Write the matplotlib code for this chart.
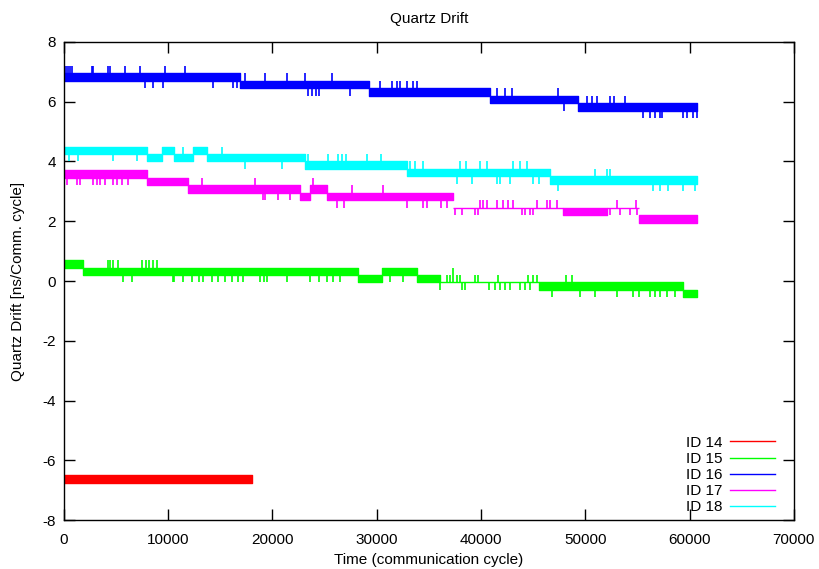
import matplotlib
matplotlib.use("Agg")
import matplotlib.pyplot as plt
from matplotlib.lines import Line2D

plt.rcParams['font.family'] = ['Liberation Sans', 'DejaVu Sans']
plt.rcParams['axes.unicode_minus'] = False

# each series: band segments (x edges, low level, high level) + single spikes
labels = ["ID 14", "ID 15", "ID 16", "ID 17", "ID 18"]
colors = ["#ff0000", "#00ff00", "#0000ff", "#ff00ff", "#00ffff"]

# ID 14
id14_edges = [0, 18000]
id14_lo = [-6.75]
id14_hi = [-6.5]
id14_spike_x = [0, 0]
id14_spike_y = [-6.3, -7.55]

# ID 15
id15_edges = [0, 1800, 28200, 30500, 33900, 36100, 45600, 59400, 60700]
id15_lo = [0.45, 0.2, -0.05, 0.2, -0.05, -0.05, -0.3, -0.55]
id15_hi = [0.7, 0.45, 0.2, 0.45, 0.2, -0.05, -0.05, -0.3]
id15_spike_x = [4200, 4400, 4700, 5200, 7500, 7900, 8200, 8500, 8900,
                5700, 6500, 10500, 10600, 11400, 12300, 13000, 13300, 14200,
                14800, 15400, 16100, 16700, 17200, 18800, 19200, 19500, 21400,
                23600, 24500, 25200, 25800, 26500, 31300, 32500,
                36700, 37000, 37700, 38000, 39400, 39700, 41600, 44500, 45000, 45400,
                37300,
                36100, 38200, 38500, 40800, 41300, 41800, 42300, 42800, 43700, 44200, 44700,
                48200, 48700,
                46800, 49500, 50900, 53000, 54600, 55200, 56200, 56700, 57200, 57800, 58600]
id15_spike_y = [0.7] * 9 + [-0.05] * 23 + [-0.05] * 2 + [0.2] * 10 + [0.45] \
    + [-0.3] * 11 + [0.2] * 2 + [-0.55] * 11

# ID 16
id16_edges = [0, 16900, 29300, 40900, 49300, 60700]
id16_lo = [6.7, 6.45, 6.2, 5.95, 5.7]
id16_hi = [6.95, 6.7, 6.45, 6.2, 5.95]
id16_spike_x = [200, 400, 600, 800, 2700, 2800, 4200, 4400, 5900, 7300, 9700, 11600,
                7800, 8500, 9500, 14300, 16200, 16600,
                17400, 19300, 21400, 23100, 25700,
                23400, 23800, 24200, 24500, 27400,
                30300, 31500, 31900, 32200, 32900, 33500, 33900,
                41500, 42300, 43000, 47400,
                48000,
                50200, 50600, 51100, 52400, 52800, 53800,
                55500, 56200, 56700, 57200, 57400, 59400, 59800, 60300, 60700]
id16_spike_y = [7.2] * 12 + [6.45] * 6 + [6.95] * 5 + [6.2] * 5 + [6.7] * 7 \
    + [6.45] * 4 + [5.7] + [6.2] * 6 + [5.45] * 9

# ID 17
id17_edges = [0, 8000, 11900, 22600, 23600, 25200, 37300, 47900, 52100, 55200, 60700]
id17_lo = [3.45, 3.2, 2.95, 2.7, 2.95, 2.7, 2.45, 2.2, 2.45, 1.95]
id17_hi = [3.7, 3.45, 3.2, 2.95, 3.2, 2.95, 2.45, 2.45, 2.45, 2.2]
id17_spike_x = [300, 1250, 1500, 2800, 3200, 3500, 3900, 4700, 5100, 5600, 6100,
                13200, 18300,
                19100, 19300, 20500, 21700,
                23900,
                26200, 26900, 32900, 34400, 34800, 36200, 36700,
                27600, 30600,
                39900, 40200, 40600, 41500, 42100, 42600, 43100, 45400, 46300, 46600, 47300,
                37500, 38200, 39400, 39700, 43900, 44200, 44700, 45000,
                52400, 53300, 54300, 55000,
                53000, 54900]
id17_spike_y = [3.2] * 11 + [3.45] * 2 + [2.7] * 4 + [3.45] + [2.45] * 7 + [3.2] * 2 \
    + [2.7] * 11 + [2.2] * 8 + [2.2] * 4 + [2.7] * 2

# ID 18
id18_edges = [0, 8000, 9400, 10600, 12400, 13700, 23100, 32900, 46600, 60700]
id18_lo = [4.25, 4.0, 4.25, 4.0, 4.25, 4.0, 3.75, 3.5, 3.25]
id18_hi = [4.5, 4.25, 4.5, 4.25, 4.5, 4.25, 4.0, 3.75, 3.5]
id18_spike_x = [500, 1300, 4700, 7000,
                11400, 15200,
                17400, 20900,
                23400, 25300, 26300, 26700, 27100, 29100, 30400,
                33200, 33700, 34400, 38000, 38600, 39900, 40600, 43100, 43700, 44400,
                37700, 39100, 41500, 41800, 42800, 45000, 45600,
                45900, 46300, 50900, 52100, 52400,
                47400, 56500, 57200, 57900, 59400, 60500]
id18_spike_y = [4.0] * 4 + [4.5] * 2 + [3.75] * 2 + [4.25] * 7 + [4.0] * 10 \
    + [3.25] * 7 + [3.75] * 5 + [3.0] * 6


def draw_series(ax, edges, lo, hi, sx, sy, color):
    for x0, x1, a, b in zip(edges[:-1], edges[1:], lo, hi):
        ax.fill_between([x0, x1], [a, a], [b, b], facecolor=color,
                        edgecolor=color, linewidth=1.0)
    base = []
    for x, y in zip(sx, sy):
        k = 0
        while k < len(lo) - 1 and x > edges[k + 1]:
            k += 1
        base.append(hi[k] if y > hi[k] else lo[k])
    ax.vlines(sx, base, sy, colors=color, linewidth=1.2)


fig = plt.figure(figsize=(8.2, 5.69), dpi=100)
ax = fig.add_axes([0.078, 0.0861, 0.890, 0.8401])

series = [
    (id14_edges, id14_lo, id14_hi, id14_spike_x, id14_spike_y),
    (id15_edges, id15_lo, id15_hi, id15_spike_x, id15_spike_y),
    (id16_edges, id16_lo, id16_hi, id16_spike_x, id16_spike_y),
    (id17_edges, id17_lo, id17_hi, id17_spike_x, id17_spike_y),
    (id18_edges, id18_lo, id18_hi, id18_spike_x, id18_spike_y),
]
for (e, lo, hi, sx, sy), c in zip(series, colors):
    draw_series(ax, e, lo, hi, sx, sy, c)

fs = 11
ax.set_xlim(0, 70000)
ax.set_ylim(-8, 8)
ax.set_xticks(range(0, 70001, 10000))
ax.set_yticks(range(-8, 9, 2))
ax.tick_params(direction='in', length=8, width=1, top=True, right=True,
               labelsize=fs)
ax.tick_params(axis='x', pad=9)
ax.tick_params(axis='y', pad=6)
for s in ax.spines.values():
    s.set_linewidth(1.0)

ax.set_title("Quartz Drift", fontsize=fs, pad=14)
ax.set_xlabel("Time (communication cycle)", fontsize=fs, labelpad=5)
ax.set_ylabel("Quartz Drift [ns/Comm. cycle]", fontsize=fs, labelpad=12)

handles = [Line2D([], [], color=c, linewidth=1.0) for c in colors]
ax.legend(handles, labels, loc='lower right', bbox_to_anchor=(0.974, 0.012),
          frameon=False, markerfirst=False, fontsize=fs, handlelength=2.95,
          labelspacing=0.14, handletextpad=0.5, borderpad=0, borderaxespad=0)

fig.savefig("out.png", dpi=100)
